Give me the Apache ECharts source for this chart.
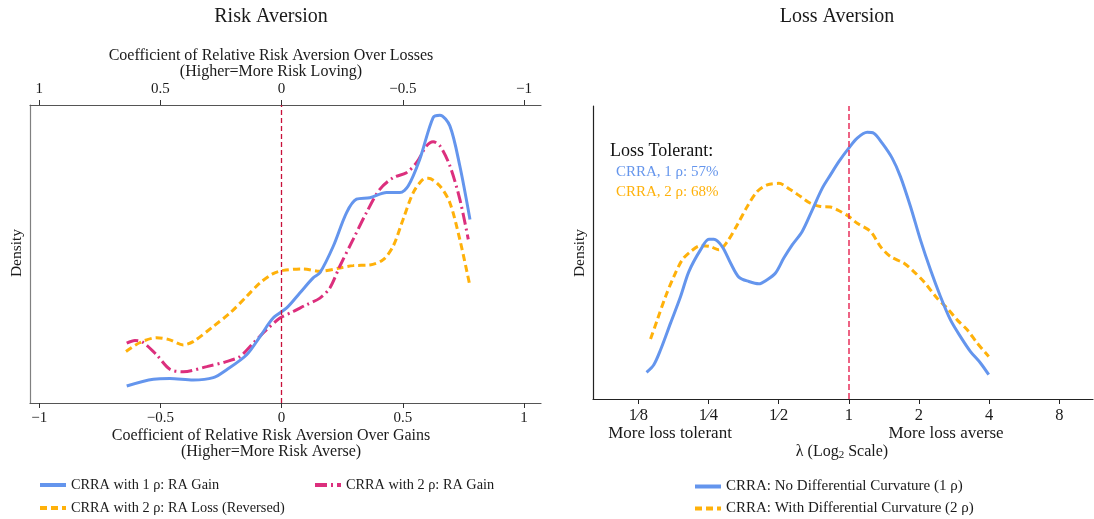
<!DOCTYPE html>
<html>
<head>
<meta charset="utf-8">
<script src="https://cdn.jsdelivr.net/npm/echarts@6/dist/echarts.min.js"></script>
<style>html,body{margin:0;padding:0;background:#fff;}#c{width:1094px;height:519px;}</style>
</head>
<body>
<div id="c"></div>
<script>
// ---- Left panel: Risk Aversion (x = CRRA coefficient over gains) ----
var raGain1X = [-0.639,-0.529,-0.461,-0.365,-0.282,-0.228,-0.144,-0.089,-0.035,0.021,0.075,0.130,0.158,0.213,0.268,0.309,0.364,0.433,0.488,0.522,0.570,0.625,0.653,0.694,0.735,0.777];
var raGain1Y = [5.7,8.0,8.2,7.7,8.5,11.1,16.2,22.3,28.5,31.9,36.9,42.0,43.7,52.6,63.9,68.4,68.9,70.6,70.6,72.8,81.8,95.8,96.6,93.0,79.6,61.6];

var raGain2X = [-0.639,-0.605,-0.571,-0.516,-0.461,-0.406,-0.309,-0.228,-0.172,-0.117,-0.062,-0.007,0.048,0.103,0.158,0.199,0.240,0.295,0.350,0.405,0.460,0.515,0.557,0.598,0.625,0.653,0.694,0.735,0.770];
var raGain2Y = [20.1,21.0,20.3,16.2,11.3,10.5,12.2,13.9,15.6,20.1,24.6,28.5,30.7,33.0,35.2,38.6,45.9,54.9,63.9,71.7,75.6,77.3,80.7,86.3,87.7,86.3,79.6,68.4,54.9];

var raLoss2X = [-0.642,-0.584,-0.516,-0.461,-0.406,-0.365,-0.282,-0.213,-0.144,-0.089,-0.035,0.007,0.089,0.158,0.240,0.295,0.364,0.419,0.460,0.501,0.543,0.584,0.605,0.653,0.694,0.735,0.777];
var raLoss2Y = [17.3,20.3,21.9,21.2,19.5,20.6,25.7,30.2,35.8,40.3,43.4,44.5,45.0,44.2,45.3,46.1,46.3,48.1,52.6,61.6,70.6,75.1,75.4,72.8,67.2,54.9,39.2];

var leftTicks = [-1,-0.5,0,0.5,1];

// ---- Right panel: Loss Aversion (x = log2 lambda) ----
var la1X = [-2.882,-2.778,-2.682,-2.540,-2.397,-2.279,-2.113,-1.994,-1.923,-1.804,-1.685,-1.567,-1.424,-1.282,-1.163,-1.044,-0.926,-0.806,-0.664,-0.521,-0.379,-0.261,-0.142,0,0.120,0.262,0.356,0.476,0.618,0.736,0.879,1.021,1.164,1.306,1.449,1.591,1.734,1.876,1.994];
var la1Y = [9.1,11.7,16.8,25.9,35.0,43.5,50.9,54.5,54.5,52.0,46.4,41.6,40.1,39.3,40.7,43.0,48.1,52.6,57.2,64.5,71.9,76.5,81.0,85.6,89.0,91.0,90.7,87.3,82.2,75.9,65.7,54.3,44.1,35.0,27.0,21.3,16.2,12.3,8.3];

var la2X = [-2.825,-2.729,-2.611,-2.493,-2.373,-2.255,-2.113,-1.970,-1.852,-1.732,-1.590,-1.447,-1.305,-1.163,-0.997,-0.830,-0.688,-0.546,-0.403,-0.261,-0.118,0,0.120,0.309,0.452,0.594,0.783,0.926,1.068,1.259,1.402,1.544,1.687,1.829,1.994];
var la2Y = [20.5,27.0,35.0,41.8,47.5,50.3,52.3,52.0,50.9,53.7,59.4,65.7,70.8,73.1,73.6,71.4,69.1,66.8,65.7,65.5,64.0,62.3,60.0,57.2,52.0,48.6,46.4,43.5,40.1,34.4,31.0,27.0,23.6,19.1,14.5];

var rightTickValues = [-3,-2,-1,0,1,2,3];
var rightTickLabels = ['1\u20448','1\u20444','1\u20442','1','2','4','8'];

var serif = '"Liberation Serif","DejaVu Serif",serif';
var blue = '#6495ED', magenta = '#DC2F7D', orange = '#FFB10A';

function zip(xs, ys){ return xs.map(function(x,i){ return [x, ys[i]]; }); }
function fmtNum(v){
  if (Math.abs(v) < 1e-9) return '0';
  var s = String(v);
  return v < 0 ? '\u2212' + s.slice(1) : s;
}

var chart = echarts.init(document.getElementById('c'));

function legendAt(name, left, top, size){
  return {data: [name], left: left, top: top, padding: 0, itemWidth: 26, itemHeight: 12, itemGap: 4,
    itemStyle: {opacity: 0}, lineStyle: {width: 4},
    textStyle: {fontFamily: serif, fontSize: size, color: '#1a1a1a'}};
}
function txt(x, y, text, size, fill, align, extra){
  var o = {type: 'text', x: x, y: y, style: {text: text, font: size + 'px ' + serif, fill: fill || '#1a1a1a',
    align: align || 'center', verticalAlign: 'middle'}};
  if (extra) Object.assign(o, extra);
  return o;
}

chart.setOption({
  animation: false,
  backgroundColor: '#fff',
  grid: [
    {left: 30, right: 553, top: 105, bottom: 116},
    {left: 593, right: 1, top: 106, bottom: 120}
  ],
  xAxis: [
    {type: 'value', gridIndex: 0, position: 'bottom', min: -1.038, max: 1.070,
     axisLine: {show: true, onZero: false, lineStyle: {color: '#555', width: 1.2}},
     axisTick: {show: true, length: 5, customValues: leftTicks, lineStyle: {color: '#333'}},
     axisLabel: {customValues: leftTicks, margin: 8, formatter: fmtNum, fontFamily: serif, fontSize: 15, color: '#1a1a1a'},
     splitLine: {show: false}},
    {type: 'value', gridIndex: 0, position: 'top', inverse: true, min: -1.070, max: 1.038,
     axisLine: {show: true, onZero: false, lineStyle: {color: '#555', width: 1.2}},
     axisTick: {show: true, length: 5, customValues: leftTicks, lineStyle: {color: '#333'}},
     axisLabel: {customValues: leftTicks, margin: 8, formatter: fmtNum, fontFamily: serif, fontSize: 15, color: '#1a1a1a'},
     splitLine: {show: false}},
    {type: 'value', gridIndex: 1, position: 'bottom', min: -3.645, max: 3.48,
     axisLine: {show: true, onZero: false, lineStyle: {color: '#222', width: 1.2}},
     axisTick: {show: true, length: 5, customValues: rightTickValues, lineStyle: {color: '#222'}},
     axisLabel: {customValues: rightTickValues, margin: 8, fontFamily: serif, fontSize: 16.5, color: '#1a1a1a',
       formatter: function(v){ var i = rightTickValues.indexOf(Math.round(v)); return i >= 0 ? rightTickLabels[i] : ''; }},
     splitLine: {show: false}}
  ],
  yAxis: [
    {type: 'value', gridIndex: 0, min: 0, max: 100,
     axisLine: {show: true, onZero: false, lineStyle: {color: '#808080', width: 1.2}},
     axisTick: {show: false}, axisLabel: {show: false}, splitLine: {show: false}},
    {type: 'value', gridIndex: 1, min: 0, max: 100,
     axisLine: {show: true, onZero: false, lineStyle: {color: '#222', width: 1.2}},
     axisTick: {show: false}, axisLabel: {show: false}, splitLine: {show: false}}
  ],
  legend: [
    legendAt('CRRA with 1 \u03c1: RA Gain', 38, 478, 14.3),
    legendAt('CRRA with 2 \u03c1: RA Gain', 313, 478, 14.3),
    legendAt('CRRA with 2 \u03c1: RA Loss (Reversed)', 38, 501, 14.3),
    legendAt('CRRA: No Differential Curvature (1 \u03c1)', 693, 479, 15),
    legendAt('CRRA: With Differential Curvature (2 \u03c1)', 693, 501, 15)
  ],
  graphic: [
    txt(271, 17, 'Risk Aversion', 20),
    txt(837, 17, 'Loss Aversion', 20),
    txt(271, 56, 'Coefficient of Relative Risk Aversion Over Losses', 16),
    txt(271, 72, '(Higher=More Risk Loving)', 16),
    txt(271, 436, 'Coefficient of Relative Risk Aversion Over Gains', 16),
    txt(271, 452, '(Higher=More Risk Averse)', 16),
    txt(17, 253, 'Density', 15.5, null, null, {rotation: Math.PI / 2}),
    txt(580, 253, 'Density', 15.5, null, null, {rotation: Math.PI / 2}),
    txt(670, 434, 'More loss tolerant', 17),
    txt(946, 434, 'More loss averse', 17),
    {type: 'text', x: 842, y: 452, style: {rich: {a: {font: '16px ' + serif, fill: '#1a1a1a'}, s: {font: '11px ' + serif, fill: '#1a1a1a', padding: [7,0,0,0]}},
      text: '{a|\u03bb (Log}{s|2}{a| Scale)}', align: 'center', verticalAlign: 'middle'}},
    txt(610, 151, 'Loss Tolerant:', 18, '#111', 'left'),
    txt(616, 172, 'CRRA, 1 \u03c1: 57%', 15, blue, 'left'),
    txt(616, 192, 'CRRA, 2 \u03c1: 68%', 15, orange, 'left')
  ],
  series: [
    {name: 'CRRA with 2 \u03c1: RA Loss (Reversed)', type: 'line', xAxisIndex: 0, yAxisIndex: 0, data: zip(raLoss2X, raLoss2Y),
     smooth: 0.3, symbol: 'none', lineStyle: {color: orange, width: 3, type: [7, 4]}, itemStyle: {color: orange}, z: 2},
    {name: 'CRRA with 2 \u03c1: RA Gain', type: 'line', xAxisIndex: 0, yAxisIndex: 0, data: zip(raGain2X, raGain2Y),
     smooth: 0.3, symbol: 'none', lineStyle: {color: magenta, width: 3, type: [12, 4, 2, 4]}, itemStyle: {color: magenta}, z: 3},
    {name: 'CRRA with 1 \u03c1: RA Gain', type: 'line', xAxisIndex: 0, yAxisIndex: 0, data: zip(raGain1X, raGain1Y),
     smooth: 0.3, symbol: 'none', lineStyle: {color: blue, width: 3}, itemStyle: {color: blue}, z: 4,
     markLine: {silent: true, symbol: 'none', label: {show: false}, lineStyle: {color: '#C8103A', width: 1.3, type: [5, 3], opacity: 1}, data: [{xAxis: 0}]}},
    {name: 'CRRA: No Differential Curvature (1 \u03c1)', type: 'line', xAxisIndex: 2, yAxisIndex: 1, data: zip(la1X, la1Y),
     smooth: 0.3, symbol: 'none', lineStyle: {color: blue, width: 3}, itemStyle: {color: blue}, z: 3,
     markLine: {silent: true, symbol: 'none', label: {show: false}, lineStyle: {color: '#E8305C', width: 1.5, type: [6, 3], opacity: 1}, data: [{xAxis: 0}]}},
    {name: 'CRRA: With Differential Curvature (2 \u03c1)', type: 'line', xAxisIndex: 2, yAxisIndex: 1, data: zip(la2X, la2Y),
     smooth: 0.3, symbol: 'none', lineStyle: {color: orange, width: 3, type: [7, 4]}, itemStyle: {color: orange}, z: 2}
  ]
});
</script>
</body>
</html>
